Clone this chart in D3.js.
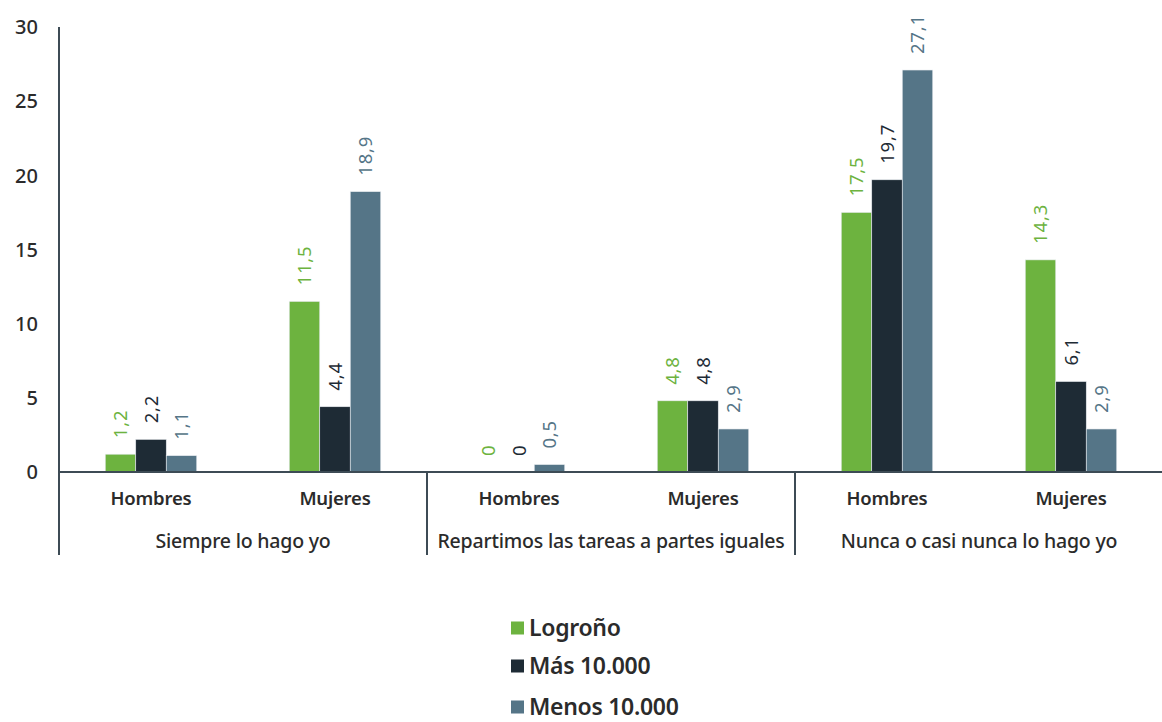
<!DOCTYPE html>
<html><head><meta charset="utf-8">
<script src="https://cdn.jsdelivr.net/npm/d3@7"></script>
<style>body{margin:0;background:#fff}svg{font-family:"Noto Sans",sans-serif}</style>
</head><body><svg id="c" width="1162" height="722"></svg>
<script>
const groups = ["Siempre lo hago yo","Repartimos las tareas a partes iguales","Nunca o casi nunca lo hago yo"];
const sexes = ["Hombres","Mujeres"];
const series = ["Logroño","Más 10.000","Menos 10.000"];
const logrono = [1.2, 11.5, 0, 4.8, 17.5, 14.3];
const mas10000 = [2.2, 4.4, 0, 4.8, 19.7, 6.1];
const menos10000 = [1.1, 18.9, 0.5, 2.9, 27.1, 2.9];
const yTicks = [0,5,10,15,20,25,30];
const colors = ["#6db33f","#1e2b35","#557587"];

const values = [logrono, mas10000, menos10000];
const cats = [];
groups.forEach((g,gi)=>sexes.forEach((s,si)=>cats.push({key:gi+"-"+si,g,s,gi})));

const svg = d3.select("#c");
const x0 = 59, x1 = 1163, yTop = 27, yBase = 472;
const x = d3.scaleBand().domain(cats.map(c=>c.key)).range([x0,x1]);
const xs = d3.scaleBand().domain(series).range([0, 91.5]);
const y = d3.scaleLinear().domain([0,30]).range([yBase,yTop]);
const fmt = v => String(v).replace(".", ",");
const txt = "#2b2b2b";

// y axis
svg.append("line").attr("x1",x0).attr("x2",x0).attr("y1",yTop).attr("y2",555).attr("stroke","#3d4b55").attr("stroke-width",2);
svg.selectAll(".yt").data(yTicks).join("text")
  .attr("x",38).attr("y",d=>y(d)).attr("dy","0.36em").attr("text-anchor","end")
  .attr("font-size",20).attr("font-weight",500).attr("fill",txt).text(d=>d);

// bars
cats.forEach((c,ci)=>{
  const cx = x(c.key) + x.bandwidth()/2 - 91.5/2;
  series.forEach((s,si)=>{
    const v = values[si][ci];
    svg.append("rect").attr("x",cx+xs(s)).attr("width",xs.bandwidth())
      .attr("y",y(v)).attr("height",yBase-y(v)).attr("fill",colors[si])
      .attr("stroke","#e8ecef").attr("stroke-width",0.6);
    const lx = cx+xs(s)+xs.bandwidth()/2, ly = y(v)-16;
    svg.append("text").attr("transform",`translate(${lx},${ly}) rotate(-90)`)
      .attr("dy","0.36em").attr("font-size",18.5).attr("fill",colors[si]).attr("letter-spacing",0.8).text(fmt(v));
  });
});

// x axis
svg.append("line").attr("x1",x0).attr("x2",x1).attr("y1",yBase).attr("y2",yBase).attr("stroke","#3d4b55").attr("stroke-width",2);
groups.forEach((g,gi)=>{
  const gx = x0 + gi*x.bandwidth()*2;
  if(gi>0) svg.append("line").attr("x1",gx).attr("x2",gx).attr("y1",yBase).attr("y2",555).attr("stroke","#3d4b55").attr("stroke-width",2);
  svg.append("text").attr("x",gx+x.bandwidth()).attr("y",541).attr("dy","0.36em").attr("text-anchor","middle")
    .attr("font-size",19.5).attr("font-weight",500).attr("letter-spacing",-0.2).attr("fill",txt).text(g);
});
cats.forEach(c=>{
  svg.append("text").attr("x",x(c.key)+x.bandwidth()/2).attr("y",498).attr("dy","0.36em").attr("text-anchor","middle")
    .attr("font-size",18.5).attr("font-weight",600).attr("letter-spacing",-0.2).attr("fill",txt).text(c.s);
});

// legend
const legY = [628,666,707];
series.forEach((s,i)=>{
  svg.append("rect").attr("x",511).attr("y",legY[i]-6.5).attr("width",13).attr("height",13).attr("fill",colors[i]);
  svg.append("text").attr("x",529).attr("y",legY[i]).attr("dy","0.36em").attr("font-size",23).attr("font-weight",600)
    .attr("letter-spacing",-0.3).attr("fill",txt).text(s);
});
</script></body></html>
